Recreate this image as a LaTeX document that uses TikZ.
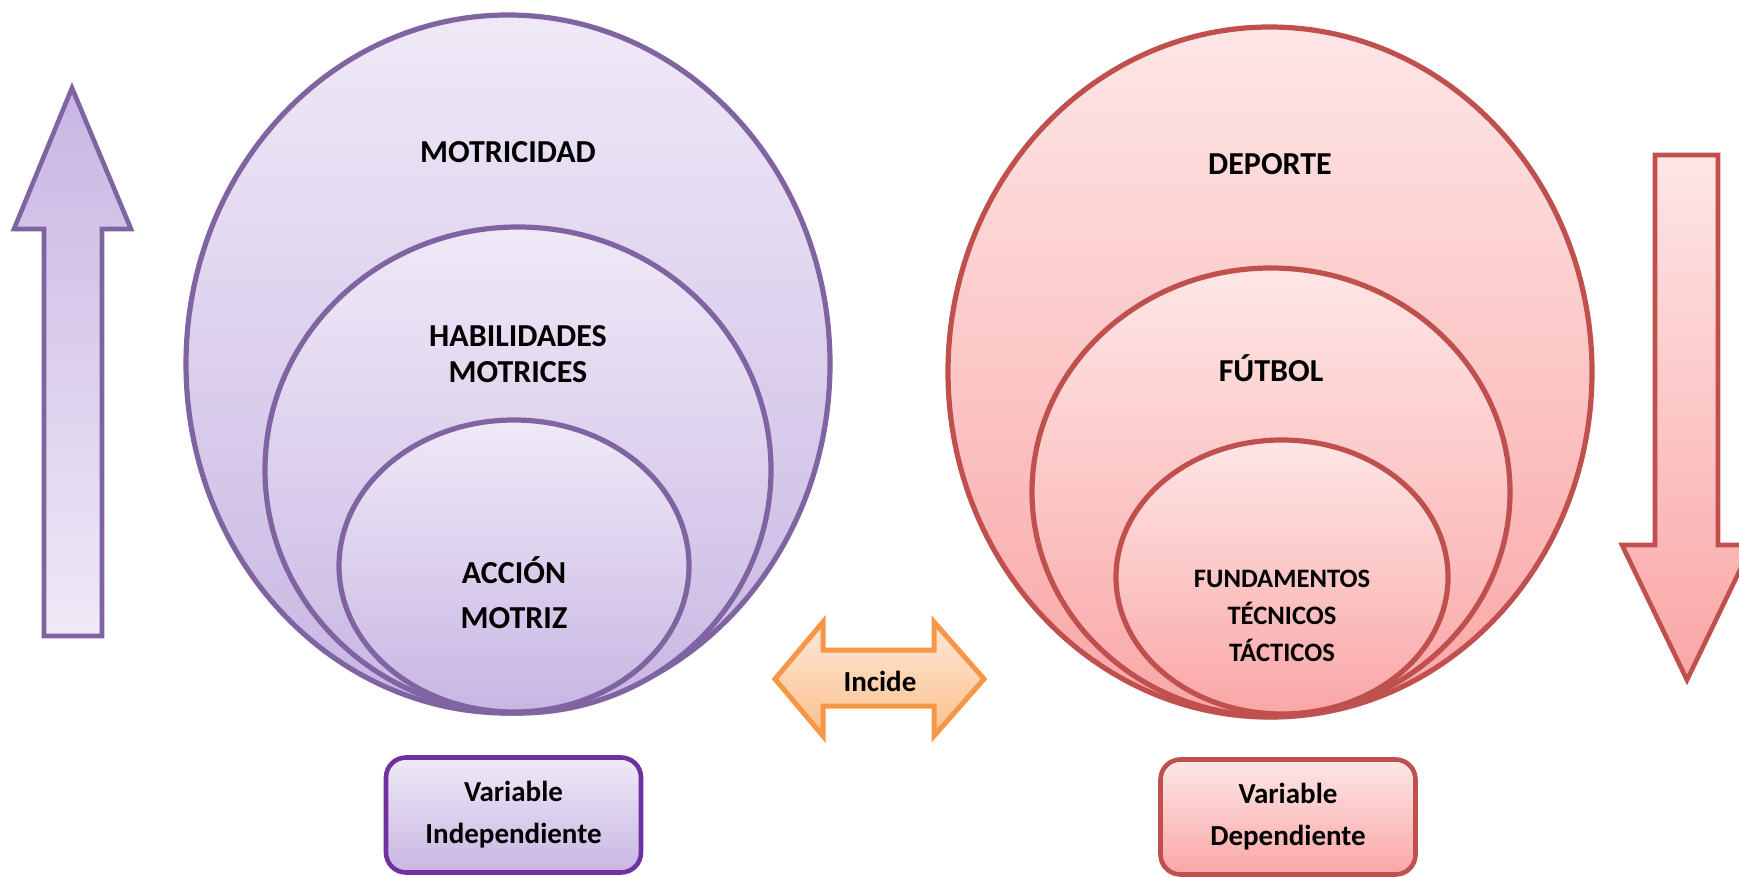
\documentclass[tikz,border=0pt]{standalone}
\usepackage{fontspec}
\setmainfont{Carlito}
\usetikzlibrary{shapes.geometric,shadows}
\definecolor{pstroke}{HTML}{8064A2}
\definecolor{ptop}{HTML}{EFE9F7}
\definecolor{pbot}{HTML}{C8B6E3}
\definecolor{pbox}{HTML}{7030A0}
\definecolor{rstroke}{HTML}{C0504D}
\definecolor{rtop}{HTML}{FEE6E6}
\definecolor{rbot}{HTML}{FAA6A6}
\definecolor{ostroke}{HTML}{F79646}
\definecolor{otop}{HTML}{FDE9D9}
\definecolor{obot}{HTML}{FBBF8C}
\tikzset{
  pell/.style={ellipse, draw=pstroke, line width=2.6pt, top color=ptop, bottom color=pbot, inner sep=0pt, drop shadow={opacity=0.3, shadow xshift=0.4pt, shadow yshift=-1.4pt}},
  rell/.style={ellipse, draw=rstroke, line width=2.6pt, top color=rtop, bottom color=rbot, inner sep=0pt, drop shadow={opacity=0.3, shadow xshift=0.4pt, shadow yshift=-1.4pt}},
  lbl/.style={font=\bfseries\fontsize{16}{18}\selectfont, align=center, text=black},
  sbox/.style={rectangle, rounded corners=10pt, line width=2.3pt, align=center, font=\bfseries\fontsize{14.5}{21}\selectfont, minimum width=127.5pt, minimum height=57.5pt, inner sep=0pt},
}
\begin{document}
\begin{tikzpicture}[x=0.5pt,y=-0.5pt]
\useasboundingbox (0,0) rectangle (1739,877);
\fill[white] (0,0) rectangle (1739,877);
% up arrow
\path[draw=pstroke, line width=2.3pt, line join=miter, top color=pbot, bottom color=ptop]
  (72,88) -- (131,229) -- (102,229) -- (102,636) -- (44,636) -- (44,229) -- (14,229) -- cycle;
% down arrow
\path[draw=rstroke, line width=2.3pt, line join=miter, top color=rtop, bottom color=rbot]
  (1655,155) -- (1718,155) -- (1718,545) -- (1752,545) -- (1687,680) -- (1622,545) -- (1655,545) -- cycle;
% purple ellipses
\node[pell, minimum width=322pt, minimum height=349pt] (motr) at (508,364) {};
\node[pell, minimum width=253pt, minimum height=243pt] (habil) at (518,470) {};
\node[pell, minimum width=175pt, minimum height=146pt] (accion) at (514,566) {};
\node[lbl] (tmotr) at (508,152) {MOTRICIDAD};
\node[lbl] (thabil) at (518,354) {HABILIDADES\\MOTRICES};
\node[lbl, font=\bfseries\fontsize{16}{22.5}\selectfont] (taccion) at (514,593) {ACCIÓN\\MOTRIZ};
% red ellipses
\node[rell, minimum width=322pt, minimum height=345pt] (dep) at (1270,372) {};
\node[rell, minimum width=239pt, minimum height=224pt] (fut) at (1271,492) {};
\node[rell, minimum width=166pt, minimum height=137pt] (fund) at (1282,577) {};
\node[lbl] (tdep) at (1270,164) {DEPORTE};
\node[lbl] (tfut) at (1271,368) {FÚTBOL};
\node[lbl, font=\bfseries\fontsize{13.3}{18.5}\selectfont] (tfund) at (1282,616) {FUNDAMENTOS\\TÉCNICOS\\TÁCTICOS};
% incide double arrow
\path[draw=ostroke, line width=2.5pt, line join=miter, top color=otop, bottom color=obot]
  (775,679) -- (823,622) -- (823,650) -- (934,650) -- (934,622) -- (984,679) -- (934,736) -- (934,706) -- (823,706) -- (823,736) -- cycle;
\node[font=\bfseries\fontsize{14.5}{17}\selectfont] (incide) at (880,681) {Incide};
% variable boxes
\node[sbox, draw=pbox, top color=ptop, bottom color=pbot] (vind) at (513.5,815) {Variable\\Independiente};
\node[sbox, draw=rstroke, top color=rtop, bottom color=rbot] (vdep) at (1288,817) {Variable\\Dependiente};
\end{tikzpicture}
\end{document}
